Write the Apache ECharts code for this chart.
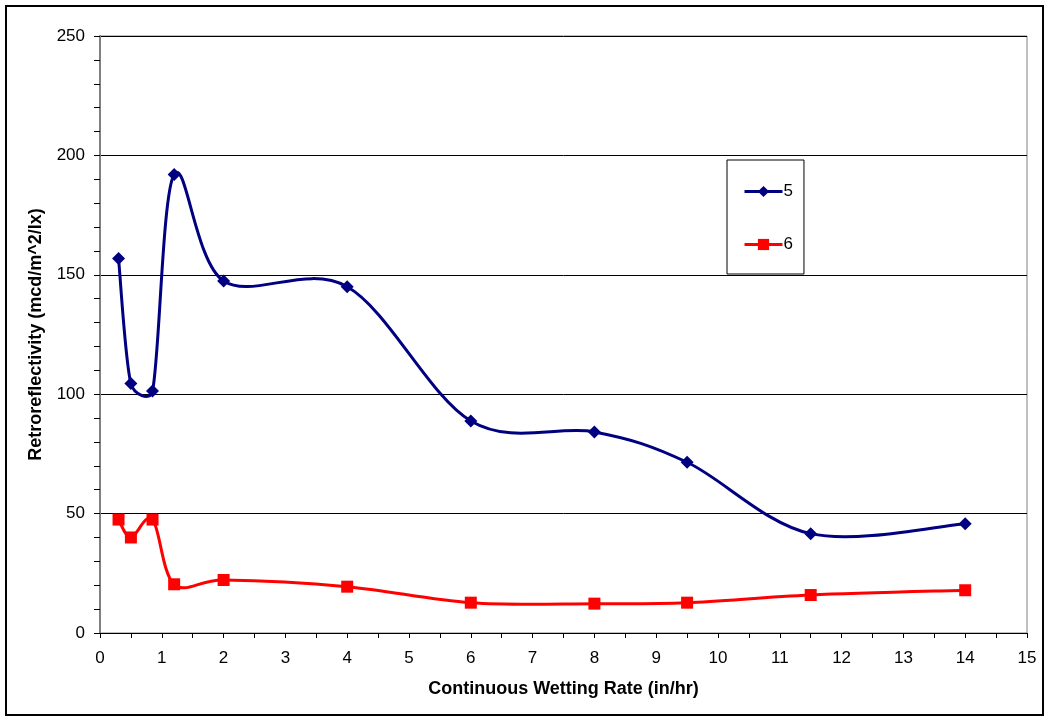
<!DOCTYPE html>
<html><head><meta charset="utf-8">
<script src="https://cdn.jsdelivr.net/npm/echarts@6/dist/echarts.min.js"></script>
<style>html,body{margin:0;padding:0;background:#fff}#c{width:1050px;height:721px}</style>
</head><body><div id="c"></div>
<script>
const xValues = [0.3, 0.5, 0.85, 1.2, 2, 4, 6, 8, 9.5, 11.5, 14];
const series5 = [156.8, 104.5, 101.3, 192, 147.4, 145, 88.8, 84.2, 71.5, 41.6, 45.8];
const series6 = [47.5, 40, 47.5, 20.4, 22.2, 19.4, 12.7, 12.3, 12.7, 15.9, 17.9];
const seriesNames = ['5', '6'];
const seriesColors = ['#000080', '#ff0000'];
const xTitle = 'Continuous Wetting Rate (in/hr)';
const yTitle = 'Retroreflectivity (mcd/m^2/lx)';

const font = 'Liberation Sans, Arial, sans-serif';
const chart = echarts.init(document.getElementById('c'), null, {renderer: 'canvas'});
const pairs = arr => xValues.map((x, i) => [x, arr[i]]);
const dist = (a, b) => Math.hypot(b[0] - a[0], b[1] - a[1]);

// Excel-style smoothed line (Bezier spline, control arms capped at half the segment) through axis-mapped points
function splineRenderer(arr, color) {
  return function (params, api) {
    if (params.dataIndex !== 0) return null;
    const p = xValues.map((x, i) => api.coord([x, arr[i]]));
    const n = p.length;
    const children = [];
    for (let i = 0; i < n - 1; i++) {
      const p0 = p[Math.max(i - 1, 0)], p1 = p[i], p2 = p[i + 1], p3 = p[Math.min(i + 2, n - 1)];
      const d12 = dist(p1, p2), d02 = dist(p0, p2), d13 = dist(p1, p3);
      const f1 = (d02 / 6 < d12 / 2 || d02 === 0) ? 1 / 6 : (d12 / 2) / d02;
      const f2 = (d13 / 6 < d12 / 2 || d13 === 0) ? 1 / 6 : (d12 / 2) / d13;
      children.push({
        type: 'bezierCurve',
        shape: {
          x1: p1[0], y1: p1[1], x2: p2[0], y2: p2[1],
          cpx1: p1[0] + (p2[0] - p0[0]) * f1, cpy1: p1[1] + (p2[1] - p0[1]) * f1,
          cpx2: p2[0] - (p3[0] - p1[0]) * f2, cpy2: p2[1] - (p3[1] - p1[1]) * f2
        },
        style: {stroke: color, lineWidth: 3, fill: null, lineCap: 'round', lineJoin: 'round'}
      });
    }
    return {type: 'group', children: children};
  };
}

chart.setOption({
  animation: false,
  backgroundColor: '#fff',
  graphic: [{type: 'rect', shape: {x: 6, y: 6, width: 1037, height: 709}, style: {fill: 'none', stroke: '#000', lineWidth: 2}}],
  grid: {left: 100, right: 23, top: 36, bottom: 88, show: true, borderColor: '#808080', borderWidth: 1},
  legend: {
    orient: 'vertical', left: 727, top: 160,
    backgroundColor: '#fff', borderColor: '#000', borderWidth: 1,
    padding: [23, 11, 21, 16], itemGap: 36, itemWidth: 38, itemHeight: 14,
    textStyle: {fontFamily: font, fontSize: 17, color: '#000', padding: [0, 0, 0, -4]},
    lineStyle: {opacity: 1, width: 3},
    data: seriesNames
  },
  xAxis: {
    type: 'value', min: 0, max: 15, interval: 1,
    name: xTitle, nameLocation: 'middle', nameGap: 47,
    nameTextStyle: {fontFamily: font, fontSize: 18, fontWeight: 'bold', color: '#000'},
    axisLine: {lineStyle: {color: '#000', width: 1}},
    axisTick: {show: true, length: 5, lineStyle: {color: '#000'}},
    minorTick: {show: true, splitNumber: 2, length: 5, lineStyle: {color: '#000'}},
    axisLabel: {fontFamily: font, fontSize: 17, color: '#000', margin: 17},
    splitLine: {show: false}
  },
  yAxis: {
    type: 'value', min: 0, max: 250, interval: 50,
    name: yTitle, nameLocation: 'middle', nameGap: 55,
    nameTextStyle: {fontFamily: font, fontSize: 18, fontWeight: 'bold', color: '#000'},
    axisLine: {show: true, lineStyle: {color: '#808080', width: 2}},
    axisTick: {show: true, length: 6, lineStyle: {color: '#000'}},
    minorTick: {show: true, splitNumber: 5, length: 6, lineStyle: {color: '#000'}},
    axisLabel: {fontFamily: font, fontSize: 17, color: '#000', margin: 15},
    splitLine: {show: true, lineStyle: {color: '#000', width: 1}}
  },
  series: [
    {name: seriesNames[0] + ' curve', type: 'custom', data: pairs(series5), encode: {x: 0, y: 1},
     renderItem: splineRenderer(series5, seriesColors[0]), z: 2, silent: true},
    {name: seriesNames[1] + ' curve', type: 'custom', data: pairs(series6), encode: {x: 0, y: 1},
     renderItem: splineRenderer(series6, seriesColors[1]), z: 2, silent: true},
    {name: seriesNames[0], type: 'line', data: pairs(series5), z: 3,
     symbol: 'diamond', symbolSize: 13, color: seriesColors[0],
     lineStyle: {width: 3, color: seriesColors[0], opacity: 0}, itemStyle: {color: seriesColors[0]}},
    {name: seriesNames[1], type: 'line', data: pairs(series6), z: 3,
     symbol: 'rect', symbolSize: 12, color: seriesColors[1],
     lineStyle: {width: 3, color: seriesColors[1], opacity: 0}, itemStyle: {color: seriesColors[1]}}
  ]
});
</script></body></html>
